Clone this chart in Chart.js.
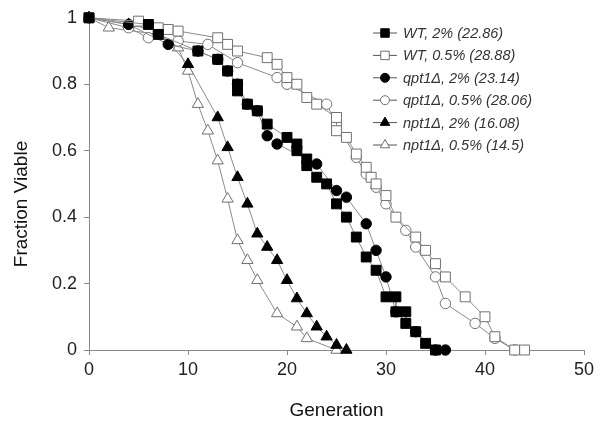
<!DOCTYPE html>
<html>
<head>
<meta charset="utf-8">
<script src="https://cdn.jsdelivr.net/npm/chart.js@4/dist/chart.umd.min.js"></script>
<style>
  html, body { margin: 0; padding: 0; background: #fff; }
  #wrap { width: 601px; height: 434px; }
</style>
</head>
<body>
<div id="wrap"><canvas id="survivalChart"></canvas></div>
<script>
// Series labels (legend text)
const seriesLabels = [
    'WT, 2% (22.86)',
    'WT, 0.5% (28.88)',
    'qpt1\u0394, 2% (23.14)',
    'qpt1\u0394, 0.5% (28.06)',
    'npt1\u0394, 2% (16.08)',
    'npt1\u0394, 0.5% (14.5)'
];

// WT, 2%
const wt2Gen  = [0, 6, 7, 11, 13, 14, 15, 15, 16, 17, 18, 20, 21, 21, 22, 22, 23, 24, 25, 26, 27, 28, 29, 30, 31, 31, 32, 32, 33, 34, 35];
const wt2Frac = [1, 0.98, 0.95, 0.90, 0.875, 0.84, 0.80, 0.78, 0.74, 0.72, 0.68, 0.64, 0.62, 0.60, 0.575, 0.555, 0.52, 0.50, 0.44, 0.40, 0.34, 0.28, 0.24, 0.16, 0.16, 0.115, 0.115, 0.08, 0.055, 0.02, 0];

// WT, 0.5%
const wt05Gen  = [0, 5, 7, 8, 9, 13, 14, 15, 18, 19, 20, 21, 22, 23, 25, 25, 26, 27, 28, 28.5, 29, 30, 31, 33, 34, 35, 36, 38, 40, 41, 43, 44];
const wt05Frac = [1, 0.99, 0.97, 0.965, 0.96, 0.94, 0.92, 0.90, 0.88, 0.86, 0.82, 0.80, 0.76, 0.74, 0.70, 0.66, 0.64, 0.59, 0.55, 0.52, 0.50, 0.465, 0.40, 0.34, 0.30, 0.26, 0.22, 0.16, 0.10, 0.04, 0, 0];

// qpt1 deletion, 2%
const qpt2Gen  = [0, 4, 8, 11, 13, 14, 15, 16, 17, 18, 19, 23, 25, 26, 28, 29, 30, 31, 33, 35, 36];
const qpt2Frac = [1, 0.98, 0.92, 0.90, 0.875, 0.84, 0.80, 0.74, 0.72, 0.645, 0.62, 0.56, 0.48, 0.46, 0.38, 0.30, 0.22, 0.115, 0.055, 0, 0];

// qpt1 deletion, 0.5%
const qpt05Gen  = [0, 4, 6, 9, 12, 15, 19, 20, 24, 25, 27, 28, 29, 30, 32, 33, 35, 36, 39, 41, 43];
const qpt05Frac = [1, 0.97, 0.94, 0.93, 0.92, 0.865, 0.82, 0.80, 0.74, 0.68, 0.58, 0.53, 0.49, 0.44, 0.36, 0.31, 0.22, 0.14, 0.08, 0.035, 0];

// npt1 deletion, 2%
const npt2Gen  = [0, 4, 7, 10, 13, 14, 15, 16, 17, 18, 19, 20, 21, 22, 23, 24, 25, 26];
const npt2Frac = [1, 0.98, 0.96, 0.86, 0.70, 0.61, 0.52, 0.44, 0.35, 0.31, 0.27, 0.21, 0.155, 0.11, 0.07, 0.04, 0.015, 0];

// npt1 deletion, 0.5%
const npt05Gen  = [0, 2, 7, 9, 10, 11, 12, 13, 14, 15, 16, 17, 19, 21, 22, 25];
const npt05Frac = [1, 0.97, 0.95, 0.91, 0.84, 0.74, 0.66, 0.57, 0.455, 0.33, 0.27, 0.21, 0.11, 0.07, 0.035, 0];

// Axis ticks and titles
const xTicks = [0, 10, 20, 30, 40, 50];
const yTicks = [0, 0.2, 0.4, 0.6, 0.8, 1];
const xTitle = 'Generation';
const yTitle = 'Fraction Viable';

const fontFamily = '"Liberation Sans", Arial, sans-serif';

function toPoints(xs, ys) {
    return xs.map((x, i) => ({ x: x, y: ys[i] }));
}

function markerRadius(style) {
    if (style === 'rect') return 7;
    if (style === 'triangle') return 6.5;
    return 5.2;
}

function makeSeries(label, xs, ys, style, filled) {
    return {
        label: label,
        data: toPoints(xs, ys),
        showLine: true,
        borderColor: '#8a8a8a',
        borderWidth: 1,
        pointStyle: style,
        pointRadius: markerRadius(style),
        pointBackgroundColor: filled ? '#000' : '#fff',
        pointBorderColor: filled ? '#000' : '#707070',
        pointBorderWidth: 1,
        clip: false
    };
}

const datasets = [
    makeSeries(seriesLabels[0], wt2Gen, wt2Frac, 'rect', true),
    makeSeries(seriesLabels[1], wt05Gen, wt05Frac, 'rect', false),
    makeSeries(seriesLabels[2], qpt2Gen, qpt2Frac, 'circle', true),
    makeSeries(seriesLabels[3], qpt05Gen, qpt05Frac, 'circle', false),
    makeSeries(seriesLabels[4], npt2Gen, npt2Frac, 'triangle', true),
    makeSeries(seriesLabels[5], npt05Gen, npt05Frac, 'triangle', false)
];

// Legend inside the plot with a short line through each marker,
// plus the y title (sits a bit below the plot's middle in the original)
const extras = {
    id: 'extras',
    afterDraw(chart) {
        const ctx = chart.ctx;
        ctx.save();
        ctx.font = 'italic 14.5px ' + fontFamily;
        ctx.textBaseline = 'middle';
        chart.data.datasets.forEach((ds, i) => {
            const y = 33 + i * 22.4;
            ctx.strokeStyle = '#555';
            ctx.lineWidth = 1;
            ctx.beginPath();
            ctx.moveTo(373, y);
            ctx.lineTo(397, y);
            ctx.stroke();
            ctx.fillStyle = ds.pointBackgroundColor;
            ctx.strokeStyle = ds.pointBorderColor;
            Chart.helpers.drawPoint(ctx, {
                pointStyle: ds.pointStyle,
                radius: ds.pointStyle === 'rect' ? 6 : (ds.pointStyle === 'triangle' ? 5.5 : 4.5),
                borderWidth: 1,
                rotation: 0
            }, 385, y);
            ctx.fillStyle = '#333';
            ctx.fillText(ds.label, 403, y + 1);
        });

        ctx.translate(22, 204);
        ctx.rotate(-Math.PI / 2);
        ctx.font = '19px ' + fontFamily;
        ctx.fillStyle = '#111';
        ctx.textAlign = 'center';
        ctx.fillText(yTitle, 0, 0);
        ctx.restore();
    }
};

const tickFont = { family: fontFamily, size: 18 };
const titleFont = { family: fontFamily, size: 19 };

new Chart(document.getElementById('survivalChart'), {
    type: 'scatter',
    data: { datasets: datasets },
    options: {
        responsive: true,
        maintainAspectRatio: false,
        animation: false,
        layout: { padding: { left: 0, right: 17, top: 16, bottom: 0 } },
        plugins: {
            legend: { display: false },
            tooltip: { enabled: false }
        },
        scales: {
            x: {
                type: 'linear',
                min: 0,
                max: 50,
                afterBuildTicks: axis => { axis.ticks = xTicks.map(v => ({ value: v })); },
                afterFit: axis => { axis.height = 84; },
                ticks: { font: tickFont, color: '#222', padding: 4, maxRotation: 0 },
                grid: { drawOnChartArea: false, tickLength: 5, color: '#888' },
                border: { color: '#888' },
                title: { display: true, text: xTitle, font: titleFont, color: '#111', padding: { top: 0, bottom: 12 } }
            },
            y: {
                type: 'linear',
                min: 0,
                max: 1,
                afterBuildTicks: axis => { axis.ticks = yTicks.map(v => ({ value: v })); },
                afterFit: axis => { axis.width = 89; },
                ticks: { font: tickFont, color: '#222', padding: 7, callback: v => String(v) },
                grid: { drawOnChartArea: false, tickLength: 5, color: '#888' },
                border: { color: '#888' },
                title: { display: false }
            }
        }
    },
    plugins: [extras]
});
</script>
</body>
</html>
